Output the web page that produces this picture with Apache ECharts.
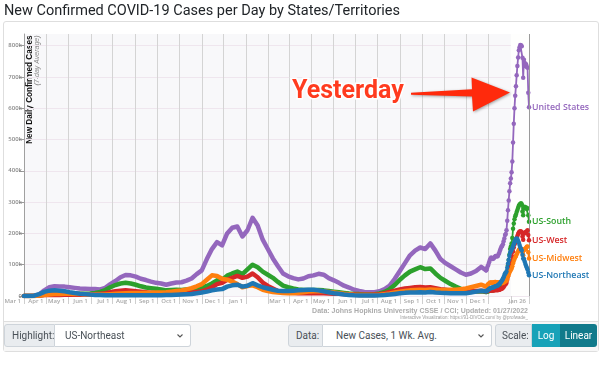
<!DOCTYPE html>
<html>
<head>
<meta charset="utf-8">
<script src="https://cdn.jsdelivr.net/npm/echarts@6/dist/echarts.min.js"></script>
<style>
  html, body { margin: 0; padding: 0; width: 600px; height: 388px; background: #fff; overflow: hidden; font-family: Roboto, "Liberation Sans", sans-serif; }
  #card { position: absolute; left: 3px; top: 21px; width: 594px; height: 329px; border: 1px solid #dedede; border-radius: 3px; z-index: 0; }
  #footer { position: absolute; left: 4px; top: 321px; width: 594px; height: 29px; background: #f7f7f7; border-top: 1px solid #dedede; z-index: 0; }
  #chart { position: absolute; left: 0; top: 0; width: 600px; height: 388px; z-index: 1; }
  .grp { position: absolute; top: 324px; height: 23px; display: flex; z-index: 2; font-size: 10px; color: #495057; }
  .lab { box-sizing: border-box; height: 23px; line-height: 21px; background: #e9ecef; border: 1px solid #ced4da; border-radius: 3px 0 0 3px; padding-left: 7px; }
  .sel { box-sizing: border-box; position: relative; height: 23px; line-height: 21px; background: #fff; border: 1px solid #ced4da; border-left: none; border-radius: 0 3px 3px 0; padding-left: 10px; }
  .sel svg { position: absolute; right: 7px; top: 9px; }
  .btn { box-sizing: border-box; height: 23px; line-height: 23px; color: #fff; text-align: center; }
</style>
</head>
<body>
<div id="card"></div>
<div id="footer"></div>
<div id="chart"></div>
<div class="grp" style="left:4px; width:187px;">
  <span class="lab" style="width:51px;">Highlight:</span>
  <span class="sel" style="width:136px;">US-Northeast<svg width="6" height="4" viewBox="0 0 6 4"><path d="M0.5 0.5 L3 3 L5.5 0.5" stroke="#555" stroke-width="1.1" fill="none"/></svg></span>
</div>
<div class="grp" style="left:288px; width:204px;">
  <span class="lab" style="width:35px;">Data:</span>
  <span class="sel" style="width:169px; padding-left:13px;">New Cases, 1 Wk. Avg.<svg width="6" height="4" viewBox="0 0 6 4"><path d="M0.5 0.5 L3 3 L5.5 0.5" stroke="#555" stroke-width="1.1" fill="none"/></svg></span>
</div>
<div class="grp" style="left:495px; width:102px;">
  <span class="lab" style="width:37px; padding-left:6px;">Scale:</span>
  <span class="btn" style="width:28px; background:#17a2b8;">Log</span>
  <span class="btn" style="width:37px; background:#117a8b; border-radius:0 3px 3px 0;">Linear</span>
</div>
<script>
// ---------------- DATA ----------------
const seriesNames = ['United States', 'US-South', 'US-West', 'US-Midwest', 'US-Northeast'];
const seriesColors = ['#9467bd', '#2ca02c', '#d62728', '#ff7f0e', '#1f77b4'];

// weekly readings (thousands), starting Sun 2020-03-01, every 7 days through 2021-11-28
const histStart = [2020, 2, 1];
const histStepDays = 7;
const usWeekly = [0,0.1,0.5,5,18,28,31,30,30,28,26,24,23,22,22,21,26,38,48,60,67,66,62,55,51,46,42,40,36,40,43,44,49,56,70,82,118,150,172,162,200,218,222,190,210,250,225,180,150,120,95,72,63,57,53,56,63,66,71,68,57,50,42,33,27,20,16,13,12,12,15,22,33,55,80,105,130,145,155,150,168,145,118,105,95,85,75,68,72,80,93,82];
const southWeekly = [0,0,0.2,1.5,4,6,7,6.5,6.5,6.5,6.5,7,7.5,8,10,13,19,28,35,40,42,40,36,31,27,25,23,21,18,19,20,19,21,22,25,27,32,40,50,52,65,72,78,70,85,100,92,78,68,58,45,33,28,24,21,19,19,19,19,18,16,14,12,10,8,6.5,6,5,5,6,8,13,22,35,52,66,78,85,92,86,88,72,58,48,38,30,23,18,15,14,15,13];
const westWeekly = [0,0.1,0.4,1.5,2.8,3.5,3.8,3.5,3.6,3.8,4,4.2,4.5,4.8,5.5,7,9,12,15,17,18,17,15.5,14,12,10,9,8,7.5,8,8.5,9,10,11,13,15,20,28,38,42,52,58,64,58,62,72,60,43,32,24,16,13,11,10,9,8.5,8.5,9,9,8.5,8,7.5,7,6,5,4.5,4,3.8,4,5,6,9,13,17,21,24,26,28,29,27,28,25,22,20,18,16,15,14,15,16,17,15];
const midwestWeekly = [0,0,0.3,1.5,3.5,5,6,6.5,7,7,6.5,6,5.5,5,4.5,4.5,5,6,7,8,9,9.5,9.5,9.5,10,10,11,11,12,14,16,18,21,25,31,38,52,66,64,55,52,46,38,28,32,34,28,20,16,13,11,9.5,9,9,10,12,14,15,16,15,13,11,9,7,5.5,4,3.5,3,2.8,3,4,6,8,11,14,16,18,19,20,19,21,20,19,19,20,20,22,24,28,32,36,30];
const northeastWeekly = [0,0.1,1,6,13,17,18,17,15,12,9.5,7.5,6,4.5,3.5,3,2.5,2.3,2.3,2.4,2.5,2.6,2.5,2.4,2.3,2.3,2.4,2.6,2.8,3.2,3.8,4.5,5.5,6.5,8.5,11,14,18,21,22,30,34,36,30,33,41,34,28,24,20,17,16,16,17,18,19,20,20,18,15,12,9,7,5,3.5,2.2,1.5,1.2,1.2,1.5,2,3,4.5,6.5,8.5,10,11,11.5,12,11.5,12.5,11,10,9.5,9,8.5,8.5,9,11,14,17,15];

// daily readings (thousands), 2021-11-28 through 2022-01-26
const recentStart = [2021, 10, 28];
const usDaily = [82,88,95,100,108,115,120,123,120,118,120,122,125,128,128,126,128,133,138,145,152,157,160,165,175,184,195,198,210,240,274,305,335,360,375,395,430,490,550,600,640,670,705,735,762,785,795,802,801,798,761,697,755,745,734,740,732,729,649,603];
const southDaily = [13,13.5,14,15,16,17,18,18.5,18,18,19,19.5,20,21,21,21,22,24,26,28,31,33,36,40,46,52,58,60,65,80,98,115,132,150,158,168,185,215,232,245,255,260,268,275,282,288,292,294,296,293,270,258,280,285,282,283,278,280,258,237];
const westDaily = [15,15.5,16,16.5,17,17.5,18,18,17.5,17.5,18,18,18.5,19,19,18.5,19,19.5,20,21,22,23,24,26,29,33,37,38,42,52,62,72,82,92,98,108,125,142,155,165,172,178,185,192,198,203,205,207,206,203,190,180,200,203,201,205,206,210,195,178];
const midwestDaily = [30,33,36,38,40,42,43,43,42,42,43,44,45,45,44,43,43,43,43,43,42,42,41,42,43,45,47,47,50,56,62,68,74,80,84,88,95,105,112,118,124,128,133,138,143,147,150,151,150,148,140,130,146,150,149,154,157,158,140,120];
const northeastDaily = [15,16,18,20,22,24,25,26,26,27,28,29,30,31,32,32,34,36,38,41,44,47,50,55,60,66,72,74,78,90,103,115,128,138,143,148,152,158,165,172,178,182,184,182,176,170,163,156,150,145,132,120,118,110,102,96,90,85,75,66];

const histValues = [usWeekly, southWeekly, westWeekly, midwestWeekly, northeastWeekly];
const recentValues = [usDaily, southDaily, westDaily, midwestDaily, northeastDaily];

const yTickValues = [0, 100000, 200000, 300000, 400000, 500000, 600000, 700000, 800000];
const monthNames = ['Jan','Feb','Mar','Apr','May','Jun','Jul','Aug','Sep','Oct','Nov','Dec'];
const hiddenMonthLabels = ['2021-1', '2022-0']; // Feb 1 2021, Jan 1 2022 not labelled

// ---------------- BUILD ----------------
function dayTs(ymd, offset) { return new Date(ymd[0], ymd[1], ymd[2] + offset).getTime(); }
const xMin = new Date(2020, 2, 1).getTime();
const xMax = new Date(2022, 0, 26).getTime();
const band0 = new Date(2022, 0, 1).getTime();

const monthTicks = [];
const labelTicks = [];
for (let m = 0; m <= 22; m++) {
  const d = new Date(2020, 2 + m, 1);
  monthTicks.push(d.getTime());
  if (hiddenMonthLabels.indexOf(d.getFullYear() + '-' + d.getMonth()) < 0) labelTicks.push(d.getTime());
}
monthTicks.push(xMax);
labelTicks.push(xMax);

const series = [];
series.push({
  type: 'line', data: [], z: 1, silent: true,
  markArea: { silent: true, itemStyle: { color: '#fefefd' }, data: [[{ xAxis: band0 }, { xAxis: xMax }]] },
  markLine: { silent: true, symbol: ['none', 'none'], label: { show: false },
    lineStyle: { color: '#9a9a9a', width: 1, type: 'solid' }, data: [{ xAxis: xMax }] }
});
seriesNames.forEach((name, k) => {
  series.push({
    name: name, type: 'line', z: 3 + k, showSymbol: false, smooth: false,
    lineStyle: { color: seriesColors[k], width: 4.5, cap: 'round', join: 'round' },
    itemStyle: { color: seriesColors[k] },
    data: histValues[k].map((v, i) => [dayTs(histStart, i * histStepDays), v * 1000])
  });
});
seriesNames.forEach((name, k) => {
  series.push({
    name: name, type: 'line', z: 3 + k, showSymbol: true, symbol: 'circle', symbolSize: 4.5,
    lineStyle: { color: seriesColors[k], width: 1.8 },
    itemStyle: { color: seriesColors[k] },
    endLabel: { show: true, formatter: '{a}', color: seriesColors[k], distance: 3,
      fontFamily: 'Open Sans', fontWeight: 600, fontSize: 8.8 },
    data: recentValues[k].map((v, i) => [dayTs(recentStart, i), v * 1000])
  });
});

const chart = echarts.init(document.getElementById('chart'), null, { renderer: 'canvas' });
chart.setOption({
  animation: false,
  backgroundColor: 'transparent',
  grid: { left: 24, right: 71, top: 34, bottom: 92, show: true, backgroundColor: '#f8f8fa', borderWidth: 0 },
  xAxis: {
    type: 'value', min: xMin, max: xMax, scale: true,
    axisLine: { show: false },
    axisTick: { show: true, length: 8, lineStyle: { color: '#cfcfcf' }, customValues: monthTicks },
    splitLine: { show: true, lineStyle: { color: '#d4d4d4', width: 1 } },
    axisLabel: {
      customValues: labelTicks, align: 'right', margin: 2, padding: [0, 3, 0, 0],
      color: '#a8a8a8', fontSize: 6, fontWeight: 600, fontFamily: 'Open Sans',
      hideOverlap: false, showMinLabel: true, showMaxLabel: true,
      formatter: function (v) { const d = new Date(v); return monthNames[d.getMonth()] + ' ' + d.getDate(); }
    }
  },
  yAxis: {
    type: 'value', min: 0, max: 837000,
    axisLine: { show: true, lineStyle: { color: '#a0a0a0' } },
    axisTick: { show: true, length: 5, lineStyle: { color: '#999' }, customValues: yTickValues },
    splitLine: { show: true, lineStyle: { color: '#efe6ee' } },
    axisLabel: {
      customValues: yTickValues, margin: 2, color: '#888', fontSize: 6, fontWeight: 600, fontFamily: 'Open Sans',
      formatter: function (v) { return v === 0 ? '0' : (v / 1000) + 'k'; }
    }
  },
  graphic: [
    { type: 'text', left: 4, top: 4, style: { text: 'New Confirmed COVID-19 Cases per Day by States/Territories', font: '14.5px Roboto', fill: '#212529' } },
    { type: 'text', x: 30, y: 35.5, rotation: Math.PI / 2, style: { text: 'New Daily Confirmed Cases', font: 'bold 8.2px "Liberation Sans"', fill: '#111', align: 'right', verticalAlign: 'middle' } },
    { type: 'text', x: 37, y: 35.5, rotation: Math.PI / 2, style: { text: '(7-day Average)', font: 'italic 7px "Liberation Sans"', fill: '#888', align: 'right', verticalAlign: 'middle' } },
    { type: 'text', x: 528, y: 311.5, style: { text: 'Data: Johns Hopkins University CSSE / CCI; Updated: 01/27/2022', font: 'bold 7px "Liberation Sans"', fill: '#acacac', align: 'right', verticalAlign: 'middle' } },
    { type: 'text', x: 528, y: 318, style: { text: 'Interactive Visualization: https://91-DIVOC.com/ by @profwade_', font: '4.5px "Liberation Sans"', fill: '#999', align: 'right', verticalAlign: 'middle' } },
    { type: 'polygon', z: 100, shape: { points: [[411, 92.8], [472, 89.3], [471.5, 77.5], [510, 92.6], [473, 111.5], [472, 96.6], [411, 94.8]] },
      style: { fill: '#ff2a0c', shadowBlur: 3, shadowColor: 'rgba(0,0,0,0.35)', shadowOffsetX: 1, shadowOffsetY: 1 } },
    { type: 'text', z: 100, x: 292, y: 92, style: { text: 'Yesterday', font: 'bold 25px Roboto', fill: '#ff3b1f', stroke: '#ffffff', lineWidth: 3, align: 'left', verticalAlign: 'middle',
      shadowBlur: 3, shadowColor: 'rgba(0,0,0,0.45)', shadowOffsetX: 1, shadowOffsetY: 1 } }
  ],
  series: series
});
</script>
</body>
</html>
